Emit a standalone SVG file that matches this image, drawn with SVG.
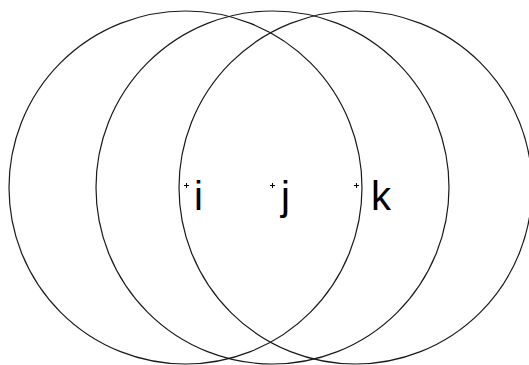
<svg xmlns="http://www.w3.org/2000/svg" width="529" height="365" viewBox="0 0 529 365">
<style>
.c{fill:none;stroke:#1a1a1a;stroke-width:1.2}
.m{stroke:#000;stroke-width:1;fill:none}
.t{font-family:"Liberation Sans",Arial,sans-serif;font-size:40px;fill:#000}
</style>
<rect width="529" height="365" fill="#fff"/>
<g id="circles">
<circle id="circle-i" class="c" cx="185.5" cy="187.5" r="176.5"/>
<circle id="circle-j" class="c" cx="272.5" cy="187.5" r="176.5"/>
<circle id="circle-k" class="c" cx="355.5" cy="187.5" r="176.5"/>
</g>
<g id="node-i">
<path class="m" d="M184,185.5h5M186.5,183v5"/>
<text class="t" x="194" y="210">i</text>
</g>
<g id="node-j">
<path class="m" d="M270,185.5h5M272.5,183v5"/>
<text class="t" x="281" y="210">j</text>
</g>
<g id="node-k">
<path class="m" d="M354,185.5h5M356.5,183v5"/>
<text class="t" x="371" y="210">k</text>
</g>
</svg>
